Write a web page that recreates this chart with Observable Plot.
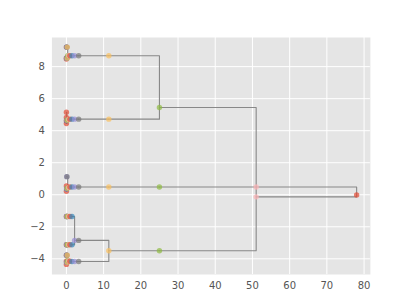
<!DOCTYPE html>
<html><head><meta charset="utf-8">
<script src="https://cdn.jsdelivr.net/npm/d3@7"></script>
<script src="https://cdn.jsdelivr.net/npm/@observablehq/plot@0.6"></script>
<style>html,body{margin:0;padding:0;background:#fff;}</style>
</head><body><div id="chart"></div>
<script>
const palette = ["#E24A33","#348ABD","#988ED5","#777777","#FBC15E","#8EBA42","#FFB5B8"];
const levelX = [0, 0.04, 0.08, 0.14, 0.22, 0.35, 0.6, 0.95, 1.5, 2.2, 3.3, 11.4, 25, 51, 78];
const xTicks = [0,10,20,30,40,50,60,70,80];
const yTicks = [-4,-2,0,2,4,6,8];

const nodeName = [
 "R","P1","P2","Gt","Gb","Gm","Ya","Yb","Yc","Yd","Ka","Kb","Kc","Kd1","Kd2",
 "Ua","Ba","Ra","Pa","Ga","A1y","A1k","A1u","A1b","A1r","A2y","A2k","A2u","A2b","A2r","A2s",
 "Ub","Bb","Rb","Pb","Gb5","Yb4","Kb3","Ub2","Bb1","B1","B2","B3","B4",
 "Uc","Bc","Rc","Pc","Gc","C1k","C1u","Yc4","Kc3","Uc2","Bc1","C2","C3",
 "Ud","D1b","D1r","D1p","D1g","D1y","D1k","D1u","D1bb","D1l","D2b","D2r","D2p","D2g","D2y","D2k","D2u","D2bb","D2l",
 "Ue","Be","Re","Pe","Ge","E1y","E1k","E1u","E1b","E1r","E2y","E2k","E2u","E2b","E2r","E2s"
];
const nodeParent = [
 null,"R","R","P2","P2","P1","Gt","Gt","Gm","Gb","Ya","Yb","Yc","Yd","Yd",
 "Ka","Ua","Ba","Ra","Pa","Ga","A1y","A1k","A1u","A1b","Ga","A2y","A2k","A2u","A2b","A2b",
 "Kb","Ub","Bb","Rb","Pb","Gb5","Yb4","Kb3","Ub2","Ub2","Bb1","Bb1","Bb1",
 "Kc","Uc","Bc","Rc","Pc","Gc","C1k","Gc","Yc4","Kc3","Uc2","Bc1","Bc1",
 "Kd1","Ud","D1b","D1r","D1p","D1g","D1y","D1k","D1u","D1bb","Ud","D2b","D2r","D2p","D2g","D2y","D2k","D2u","D2bb",
 "Kd2","Ue","Be","Re","Pe","Ge","E1y","E1k","E1u","E1b","Ge","E2y","E2k","E2u","E2b","E2b"
];
const nodeLevel = [
 14,13,13,12,12,12,11,11,11,11,10,10,10,10,10,
 9,8,7,6,5,4,3,2,1,0,4,3,2,1,0,0,
 9,8,7,6,5,4,3,2,1,0,0,0,0,
 9,8,7,6,5,3,2,4,3,2,1,0,0,
 9,8,7,6,5,4,3,2,1,0,8,7,6,5,4,3,2,1,0,
 9,8,7,6,5,4,3,2,1,0,4,3,2,1,0,0
];
const nodeY = [
 -0.02,0.48,-0.13,5.45,-3.5,0.48,8.68,4.72,0.48,-3.5,8.68,4.72,0.48,-2.85,-4.17,
 8.68,8.68,8.68,8.68,8.68,9.22,9.22,9.22,9.22,9.22,8.53,8.53,8.53,8.53,8.55,8.48,
 4.72,4.72,4.72,4.70,4.68,4.66,4.66,4.66,4.62,5.15,4.82,4.62,4.45,
 0.48,0.48,0.48,0.46,0.44,1.13,1.13,0.40,0.40,0.38,0.36,0.55,0.22,
 -2.85,-1.36,-1.36,-1.36,-1.36,-1.36,-1.36,-1.36,-1.36,-1.36,-3.12,-3.12,-3.12,-3.12,-3.12,-3.12,-3.12,-3.12,-3.12,
 -4.17,-4.17,-4.15,-4.12,-4.1,-3.78,-3.78,-3.78,-3.78,-3.78,-4.22,-4.22,-4.22,-4.22,-4.15,-4.35
];

const nodes = nodeName.map((n,i)=>({name:n,parent:nodeParent[i],level:nodeLevel[i],x:levelX[nodeLevel[i]],y:nodeY[i]}));
const byName = new Map(nodes.map(d=>[d.name,d]));
const links = nodes.filter(d=>d.parent).flatMap(d=>{
  const p = byName.get(d.parent);
  return [{id:d.name,x:d.x,y:d.y},{id:d.name,x:p.x,y:d.y},{id:d.name,x:p.x,y:p.y}];
});
const dots = nodes.slice().sort((a,b)=>a.level-b.level);
const fmt = d => d < 0 ? "\u2212" + Math.abs(d) : String(d);

const chart = Plot.plot({
  width:411, height:308,
  marginLeft:51.4, marginRight:41.1, marginTop:37, marginBottom:34,
  style:{background:"white", fontFamily:"DejaVu Sans", fontSize:"10px", color:"#555"},
  x:{domain:[-3.9,81.7], ticks:xTicks, tickSize:0, tickPadding:7, label:null, tickFormat:fmt},
  y:{domain:[-4.98,9.82], ticks:yTicks, tickSize:0, tickPadding:7, label:null, tickFormat:fmt},
  color:{type:"ordinal", domain:[0,1,2,3,4,5,6], range:palette},
  marks:[
    Plot.frame({fill:"#E5E5E5", stroke:null}),
    Plot.gridX(xTicks,{stroke:"white", strokeOpacity:1, strokeWidth:1}),
    Plot.gridY(yTicks,{stroke:"white", strokeOpacity:1, strokeWidth:1}),
    Plot.line(links,{x:"x",y:"y",z:"id",stroke:"#888",strokeWidth:1.1,curve:"linear"}),
    Plot.dot(dots,{x:"x",y:"y",r:2.7,fill:d=>d.level%7,stroke:null,fillOpacity:0.7})
  ]
});
document.getElementById("chart").appendChild(chart);
</script></body></html>
